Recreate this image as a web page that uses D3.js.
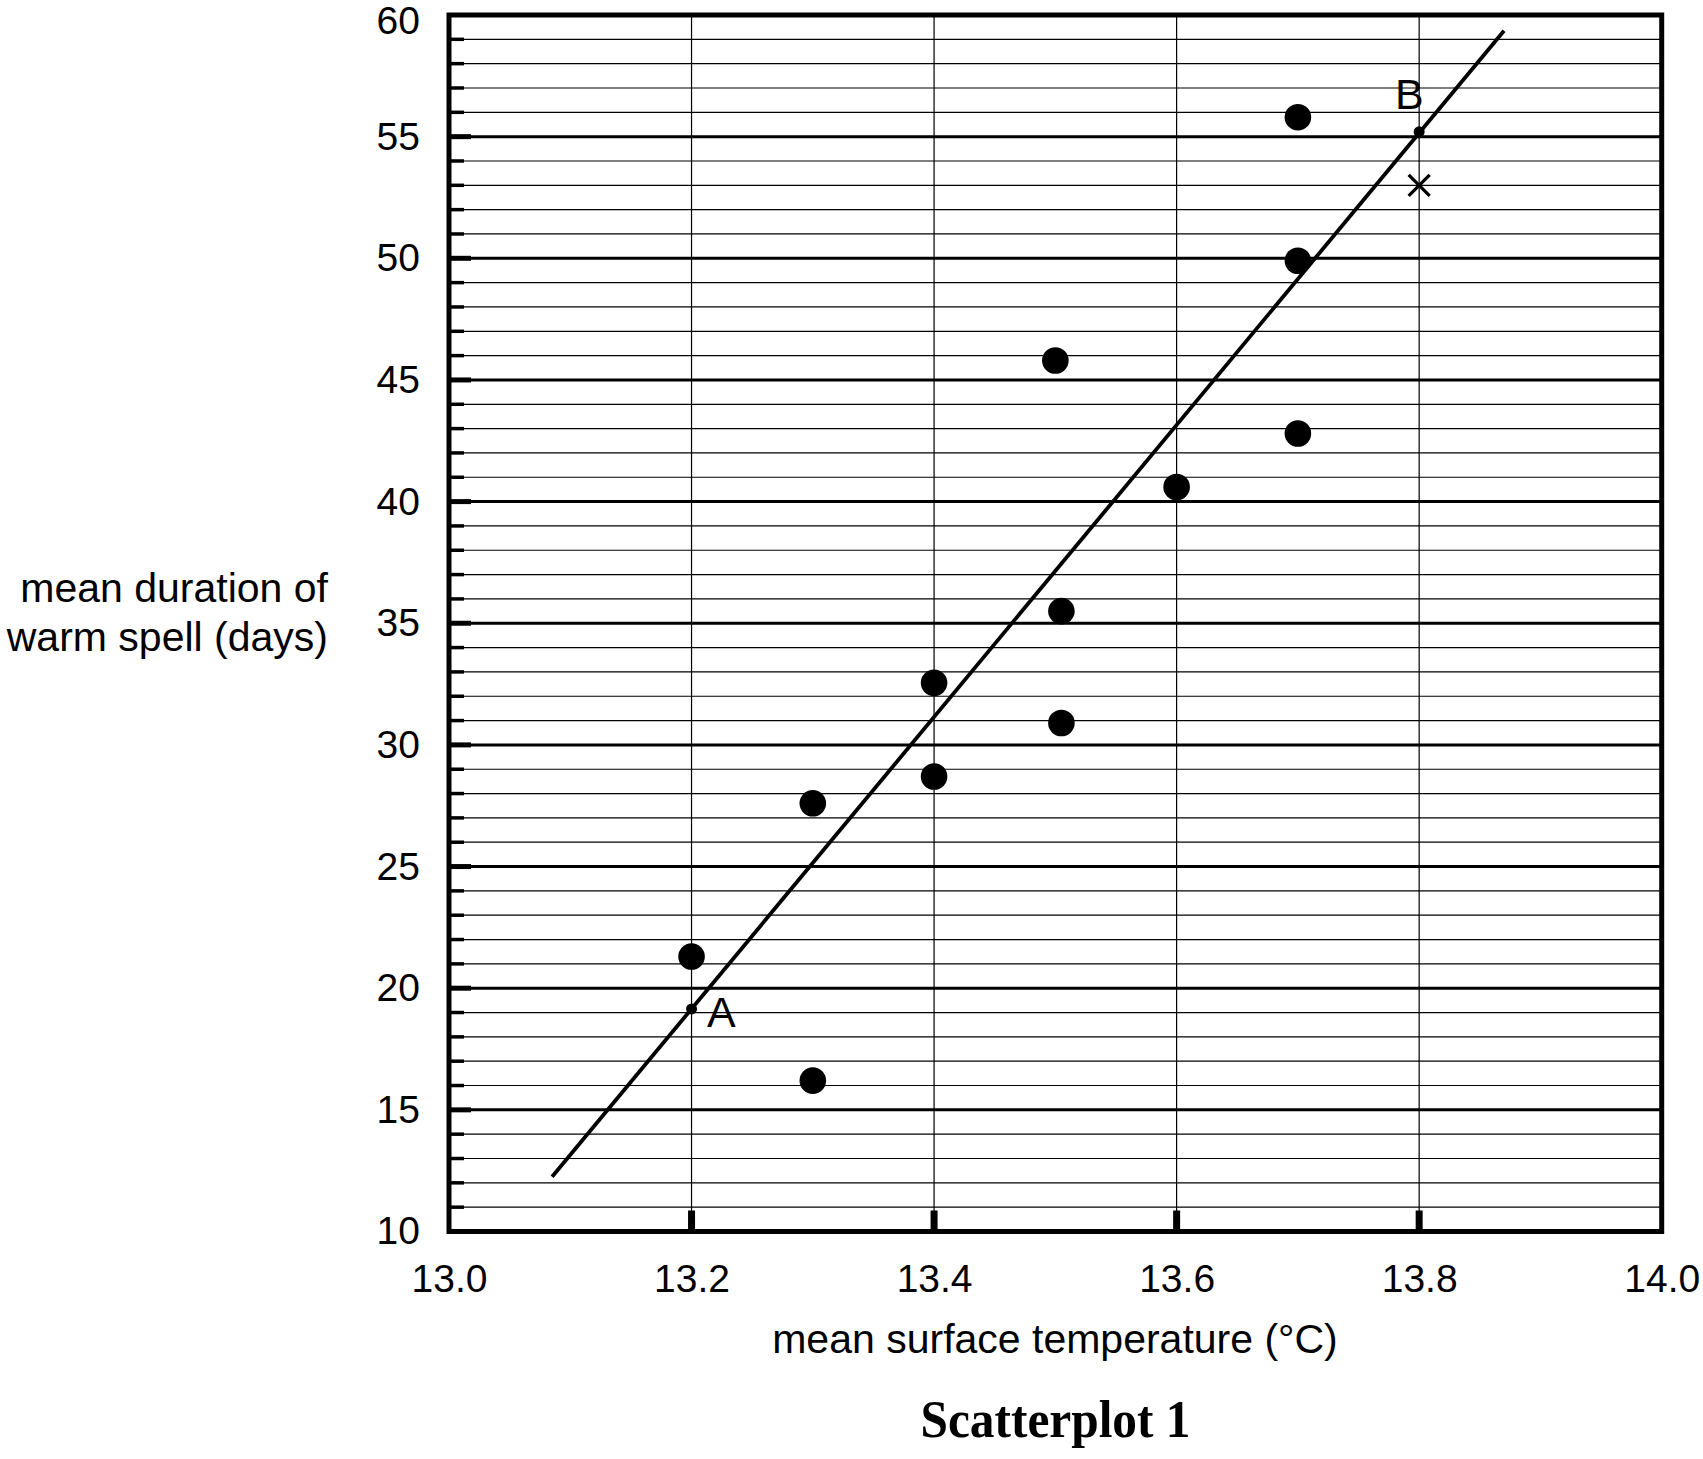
<!DOCTYPE html>
<html>
<head>
<meta charset="utf-8">
<script src="https://cdn.jsdelivr.net/npm/d3@7"></script>
<style>
  body { margin: 0; background: #fff; }
  text { font-family: Arial, "Liberation Sans", sans-serif; fill: #000; }
</style>
</head>
<body>
<svg id="chart" width="1703" height="1459"></svg>
<script>
// scatter points
const temps = [13.7, 13.7, 13.5, 13.7, 13.6, 13.505, 13.4, 13.505, 13.4, 13.3, 13.2, 13.3];
const days = [55.8, 49.9, 45.8, 42.8, 40.6, 35.5, 32.55, 30.9, 28.7, 27.6, 21.3, 16.2];

// line of best fit (two ends) and the marked points on it
const fitLine = [[13.085, 12.25], [13.87, 59.35]];
const markedPoints = [{ label: 'A', x: 13.2, y: 19.15 }, { label: 'B', x: 13.8, y: 55.2 }];
const crossPoint = [13.8, 53];

const xTicks = [13.0, 13.2, 13.4, 13.6, 13.8, 14.0];
const yTicks = [10, 15, 20, 25, 30, 35, 40, 45, 50, 55, 60];
const yMinor = d3.range(11, 60).filter(v => v % 5 !== 0);

const xLabel = 'mean surface temperature (°C)';
const yLabel = ['mean duration of', 'warm spell (days)'];
const caption = 'Scatterplot 1';

const svg = d3.select('#chart');
const pLeft = 449, pRight = 1661.7, pTop = 15, pBottom = 1231.5;

const x = d3.scaleLinear().domain([13, 14]).range([pLeft, pRight]);
const y = d3.scaleLinear().domain([10, 60]).range([pBottom, pTop]);

const grid = svg.append('g');

// minor horizontal grid
grid.selectAll('.minor').data(yMinor).enter().append('line')
	.attr('x1', pLeft).attr('x2', pRight)
	.attr('y1', d => y(d)).attr('y2', d => y(d))
	.attr('stroke', '#000').attr('stroke-width', 1.2);

// major horizontal grid
grid.selectAll('.major').data(yTicks.slice(1, -1)).enter().append('line')
	.attr('x1', pLeft).attr('x2', pRight)
	.attr('y1', d => y(d)).attr('y2', d => y(d))
	.attr('stroke', '#000').attr('stroke-width', 3);

// vertical grid
grid.selectAll('.vgrid').data(xTicks.slice(1, -1)).enter().append('line')
	.attr('x1', d => x(d)).attr('x2', d => x(d))
	.attr('y1', pTop).attr('y2', pBottom)
	.attr('stroke', '#000').attr('stroke-width', 1.2);

// left ticks
grid.selectAll('.ytickMinor').data(yMinor).enter().append('line')
	.attr('x1', pLeft).attr('x2', pLeft + 15)
	.attr('y1', d => y(d)).attr('y2', d => y(d))
	.attr('stroke', '#000').attr('stroke-width', 3.5);
grid.selectAll('.ytickMajor').data(yTicks.slice(1, -1)).enter().append('line')
	.attr('x1', pLeft).attr('x2', pLeft + 22)
	.attr('y1', d => y(d)).attr('y2', d => y(d))
	.attr('stroke', '#000').attr('stroke-width', 5);

// bottom ticks
grid.selectAll('.xtick').data(xTicks.slice(1, -1)).enter().append('line')
	.attr('x1', d => x(d)).attr('x2', d => x(d))
	.attr('y1', pBottom).attr('y2', pBottom - 21)
	.attr('stroke', '#000').attr('stroke-width', 7);

// frame
svg.append('rect')
	.attr('x', pLeft).attr('y', pTop)
	.attr('width', pRight - pLeft).attr('height', pBottom - pTop)
	.attr('fill', 'none').attr('stroke', '#000').attr('stroke-width', 5);

// axis labels through d3 axes
const xAxis = svg.append('g')
	.attr('transform', `translate(0,${pBottom})`)
	.call(d3.axisBottom(x).tickValues(xTicks).tickFormat(d3.format('.1f')).tickSize(0).tickPadding(33));
const yAxis = svg.append('g')
	.attr('transform', `translate(${pLeft},0)`)
	.call(d3.axisLeft(y).tickValues(yTicks).tickFormat(d3.format('d')).tickSize(0).tickPadding(29));
[xAxis, yAxis].forEach(a => {
	a.select('.domain').remove();
	a.selectAll('text').attr('font-size', 39).attr('font-family', 'Arial, "Liberation Sans", sans-serif').attr('fill', '#000');
});
// top label sits a little lower so it stays on the page
yAxis.selectAll('.tick').filter(d => d === 60).select('text').attr('dy', '0.47em');

// best fit line
svg.append('line')
	.attr('x1', x(fitLine[0][0])).attr('y1', y(fitLine[0][1]))
	.attr('x2', x(fitLine[1][0])).attr('y2', y(fitLine[1][1]))
	.attr('stroke', '#000').attr('stroke-width', 3.8);

// data points
svg.selectAll('.dot').data(temps).enter().append('circle')
	.attr('cx', d => x(d)).attr('cy', (d, i) => y(days[i]))
	.attr('r', 13.3).attr('fill', '#000');

// A and B
svg.selectAll('.mark').data(markedPoints).enter().append('circle')
	.attr('cx', d => x(d.x)).attr('cy', d => y(d.y))
	.attr('r', 5.5).attr('fill', '#000');
svg.append('text').attr('x', 707).attr('y', 1027).attr('font-size', 43).text(markedPoints[0].label);
svg.append('text').attr('x', 1395).attr('y', 109).attr('font-size', 43).text(markedPoints[1].label);

// cross
const cx = x(crossPoint[0]), cy = y(crossPoint[1]), cs = 10.5;
svg.append('path')
	.attr('d', `M${cx - cs},${cy - cs}L${cx + cs},${cy + cs}M${cx - cs},${cy + cs}L${cx + cs},${cy - cs}`)
	.attr('stroke', '#000').attr('stroke-width', 3.2).attr('fill', 'none');

// titles
svg.append('text').attr('x', 1055).attr('y', 1353)
	.attr('text-anchor', 'middle').attr('font-size', 41).text(xLabel);
svg.append('text').attr('text-anchor', 'end').attr('font-size', 41)
	.selectAll('tspan').data(yLabel).enter().append('tspan')
	.attr('x', 328).attr('y', (d, i) => 602 + i * 48.5).text(d => d);
svg.append('text').attr('x', 1055.5).attr('y', 1437)
	.attr('text-anchor', 'middle').attr('font-size', 53).attr('font-weight', 'bold')
	.attr('textLength', 270).attr('lengthAdjust', 'spacingAndGlyphs')
	.style('font-family', '"Times New Roman", "Liberation Serif", serif')
	.text(caption);
</script>
</body>
</html>
